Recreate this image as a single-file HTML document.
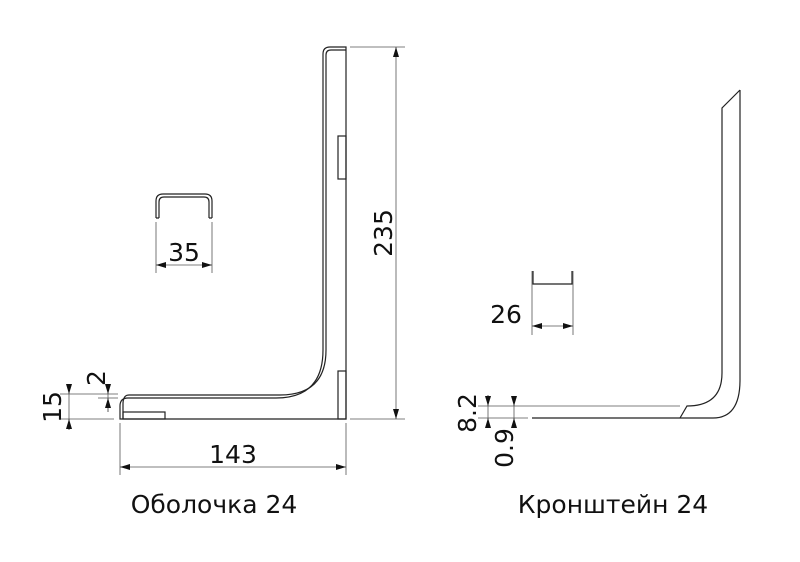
<!DOCTYPE html>
<html><head><meta charset="utf-8"><style>html,body{margin:0;padding:0;background:#fff}svg{display:block}text{font-family:"DejaVu Sans","Liberation Sans",sans-serif;fill:#111}</style></head><body>
<svg width="800" height="562" viewBox="0 0 800 562" xmlns="http://www.w3.org/2000/svg">
<defs>
<marker id="a" viewBox="0 0 10 6" refX="10" refY="3" markerWidth="10" markerHeight="6" orient="auto-start-reverse" markerUnits="userSpaceOnUse"><path d="M0,0L10,3L0,6z" fill="#111"/></marker>
</defs>
<g fill="none" stroke="#222" stroke-width="1.2">
<path d="M346,47 H330 Q323,47 323,54 V350 Q323,398 276,398 H128 Q120,398 120,406 V419 H346 Z"/>
<path d="M346,50 H331 Q326,50 326,55 V350 Q326,395 280,395 H129 Q123,395 123,404 V419"/>
<rect x="123" y="412" width="42" height="7"/>
<rect x="338" y="136" width="8" height="43"/>
<rect x="338" y="371" width="8" height="48"/>
<path d="M156,218 V201 Q156,194 163,194 H205 Q212,194 212,201 V218"/>
<path d="M159,218 V202 Q159,197 164,197 H204 Q209,197 209,202 V218 M156,218 H159 M209,218 H212"/>
<path d="M740,90 V380 Q740,418 713,418 H532"/>
<path d="M740,90 L722,108 V373 Q722,406 687,406 L680,418"/>
<path d="M533,271 V284 H572 V271"/>
</g>
<g fill="none" stroke="#555" stroke-width="0.8">
<line x1="350" y1="47" x2="405" y2="47"/><line x1="350" y1="419" x2="405" y2="419"/>
<line x1="396" y1="47" x2="396" y2="419" marker-start="url(#a)" marker-end="url(#a)"/>
<line x1="120" y1="423" x2="120" y2="475"/><line x1="346" y1="423" x2="346" y2="475"/>
<line x1="120" y1="467" x2="346" y2="467" marker-start="url(#a)" marker-end="url(#a)"/>
<line x1="156" y1="222" x2="156" y2="273"/><line x1="212" y1="222" x2="212" y2="273"/>
<line x1="156" y1="265" x2="212" y2="265" marker-start="url(#a)" marker-end="url(#a)"/>
<line x1="60" y1="394" x2="118" y2="394"/><line x1="60" y1="419" x2="114" y2="419"/>
<line x1="69" y1="384" x2="69" y2="430"/>
<line x1="69" y1="384" x2="69" y2="394" marker-end="url(#a)"/>
<line x1="69" y1="430" x2="69" y2="419" marker-end="url(#a)"/>
<line x1="98" y1="398" x2="118" y2="398"/>
<line x1="108" y1="384" x2="108" y2="412"/>
<line x1="108" y1="384" x2="108" y2="394" marker-end="url(#a)"/>
<line x1="108" y1="412" x2="108" y2="398" marker-end="url(#a)"/>
<line x1="532" y1="271" x2="532" y2="335"/><line x1="573" y1="271" x2="573" y2="335"/>
<line x1="532" y1="326" x2="573" y2="326" marker-start="url(#a)" marker-end="url(#a)"/>
<line x1="478" y1="406" x2="680" y2="406"/><line x1="478" y1="418" x2="528" y2="418"/>
<line x1="488" y1="395" x2="488" y2="428" />
<line x1="488" y1="395" x2="488" y2="406" marker-end="url(#a)"/>
<line x1="488" y1="428" x2="488" y2="418" marker-end="url(#a)"/>
<line x1="514" y1="397" x2="514" y2="428"/>
<line x1="514" y1="397" x2="514" y2="406" marker-end="url(#a)"/>
<line x1="514" y1="428" x2="514" y2="418" marker-end="url(#a)"/>
</g>
<g font-size="25">
<text x="184" y="261" text-anchor="middle">35</text>
<text x="233" y="463" text-anchor="middle">143</text>
<text transform="translate(392,233) rotate(-90)" text-anchor="middle">235</text>
<text transform="translate(61,407) rotate(-90)" text-anchor="middle">15</text>
<text transform="translate(105,378) rotate(-90)" text-anchor="middle">2</text>
<text x="506" y="323" text-anchor="middle">26</text>
<text transform="translate(476,413) rotate(-90)" text-anchor="middle">8.2</text>
<text transform="translate(513,448) rotate(-90)" text-anchor="middle">0.9</text>
<text x="214" y="513" text-anchor="middle">Оболочка 24</text>
<text x="613" y="513" text-anchor="middle">Кронштейн 24</text>
</g>
</svg>
</body></html>
